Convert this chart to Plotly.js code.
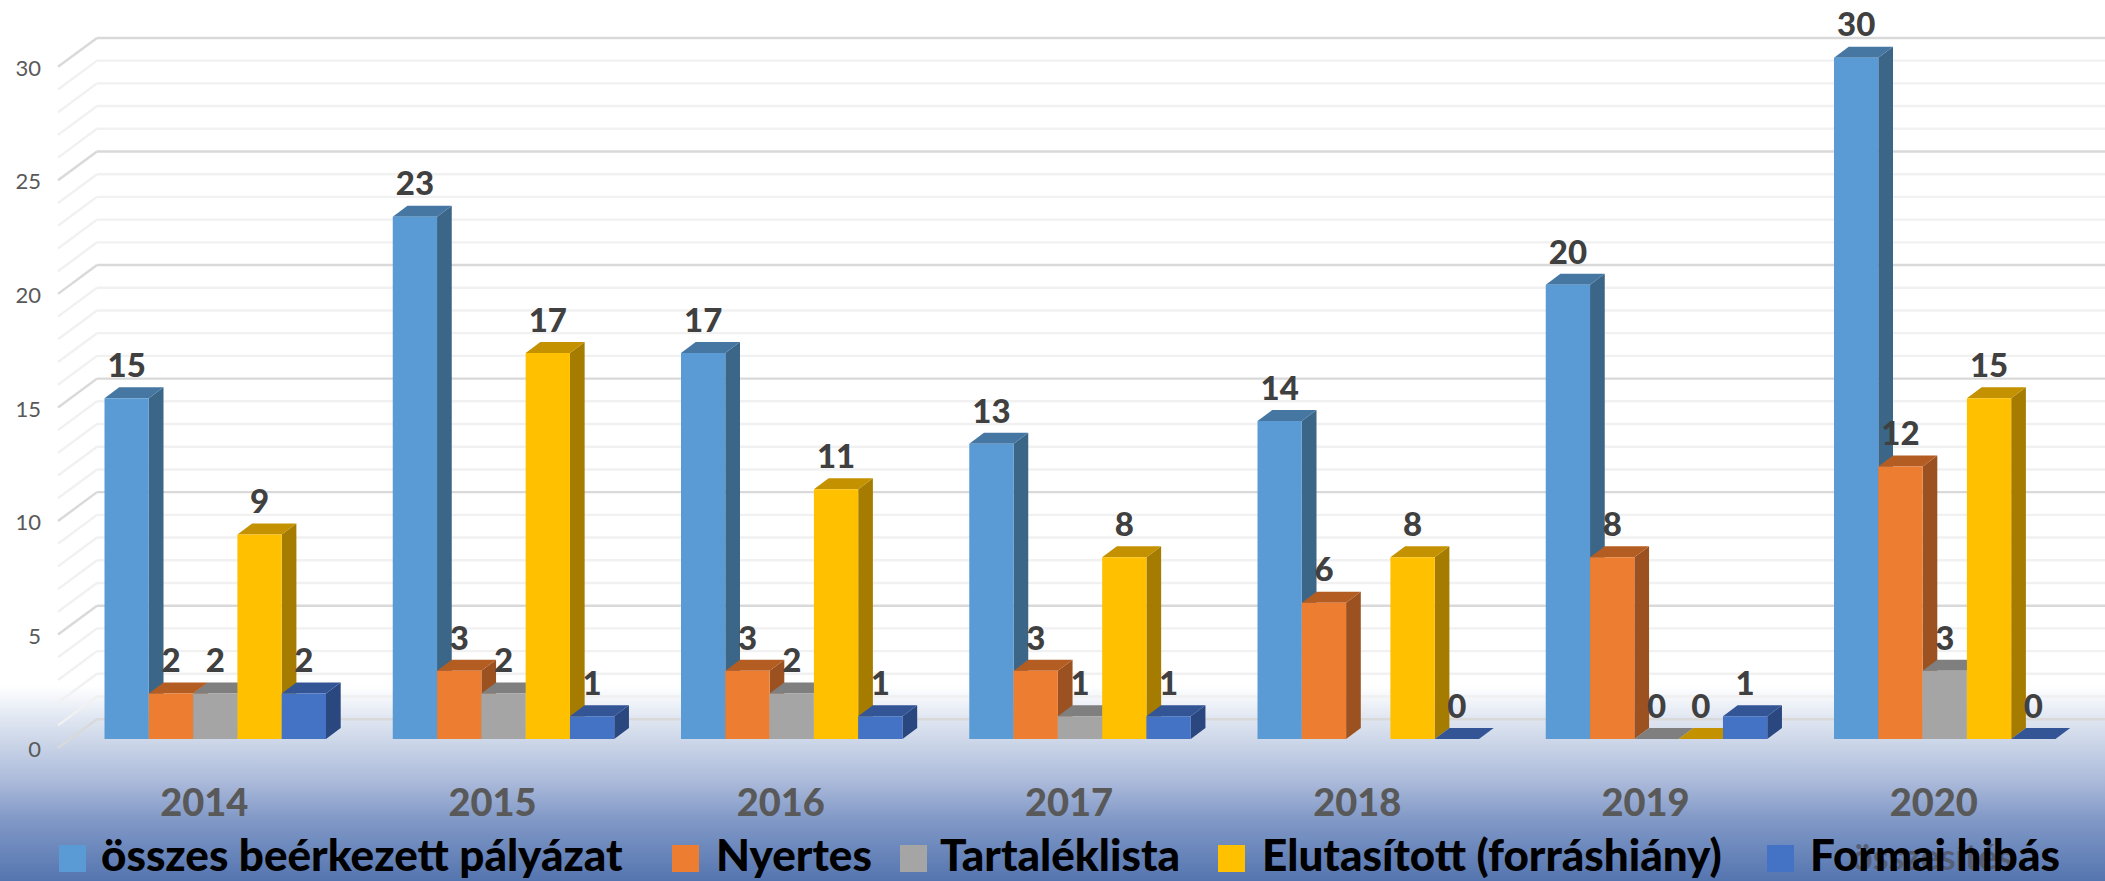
<!DOCTYPE html>
<html>
<head>
<meta charset="utf-8">
<script src="https://cdn.plot.ly/plotly-3.0.1.min.js"></script>
<style>
html,body{margin:0;padding:0;width:2105px;height:881px;overflow:hidden;
background:linear-gradient(to bottom,#ffffff 0,#ffffff 686px,#e6ebf4 712px,#c9d4e7 745px,#adbbdb 780px,#8098c6 820px,#5575b0 881px);}
</style>
</head>
<body>
<div id="chart" style="width:2105px;height:881px"></div>
<script>
var years = ['2014','2015','2016','2017','2018','2019','2020'];
var osszes = [15,23,17,13,14,20,30];
var nyertes = [2,3,3,3,6,8,12];
var tartalek = [2,2,2,1,null,0,3];
var elutasitott = [9,17,11,8,8,0,15];
var formai = [2,1,1,1,0,1,0];
var seriesNames = ['összes beérkezett pályázat','Nyertes','Tartaléklista','Elutasított (forráshiány)','Formai hibás'];
var yTicks = [0,5,10,15,20,25,30];
var gridValues = [];
for (var g = 0; g <= 30; g++) gridValues.push(g);

var allSeries = [osszes,nyertes,tartalek,elutasitott,formai];
var frontColors = ['#5B9BD5','#ED7D31','#A5A5A5','#FFC000','#4472C4'];
var sideColors  = ['#3B6688','#9C5220','#7C7C7C','#A67C00','#2A4780'];
var topColors   = ['#4677A3','#B45D22','#7F7F7F','#C49200','#335596'];

var W = 2105, H = 881, marginL = 42;
var pxPerCat = 288.25, pxPerUnit = 22.71, baseY = 739, firstCenter = 215.25;
var xOf = function(px){ return (px - firstCenter) / pxPerCat; };
var yOf = function(py){ return (baseY - py) / pxPerUnit; };
var barW = 44.3 / pxPerCat;
var depthX = 14.7 / pxPerCat, depthY = 11 / pxPerUnit;
var paperX = function(px){ return (px - marginL) / (W - marginL); };
var paperY = function(py){ return 1 - py / H; };

var shapes = [];
function poly(pts, color, layer){
  var p = pts.map(function(q,i){ return (i ? 'L' : 'M') + q[0] + ',' + q[1]; }).join(' ') + ' Z';
  shapes.push({type:'path', xref:'x', yref:'y', layer:layer, path:p, fillcolor:color, line:{width:0}});
}
function seg(x0,y0,x1,y1,color){
  shapes.push({type:'line', xref:'x', yref:'y', layer:'below', x0:x0,y0:y0,x1:x1,y1:y1, line:{color:color,width:2.4}});
}
// receding wall and floor lines
var wallLift = 0.87, frontDrop = -0.4, wallFront = xOf(58), wallBack = xOf(97), wallEnd = xOf(W + 5);
gridValues.forEach(function(v){
  var c = v % 5 === 0 ? '#d9d9d9' : '#f1f1f1';
  seg(wallFront, v + frontDrop, wallBack, v + wallLift, c);
  seg(wallBack, v + wallLift, wallEnd, v + wallLift, c);
});
// bar depth faces, left to right
for (var gi = 0; gi < years.length; gi++) {
  for (var si = 0; si < allSeries.length; si++) {
    var v = allSeries[si][gi];
    if (v === null) continue;
    var l = gi + (si - 2.5) * barW, r = l + barW;
    poly([[r,0],[r+depthX,depthY],[r+depthX,v+depthY],[r,v]], sideColors[si], 'between');
    poly([[l,v],[r,v],[r+depthX,v+depthY],[l+depthX,v+depthY]], topColors[si], 'between');
  }
}

var xIdx = years.map(function(_,i){ return i; });
var traces = [];
allSeries.forEach(function(vals,si){
  traces.push({type:'bar', name:seriesNames[si], x:xIdx, y:vals, marker:{color:frontColors[si], line:{width:0}},
    hoverinfo:'name+y', showlegend:false});
});
var labelLift = 29.5 / pxPerUnit;
allSeries.forEach(function(vals,si){
  var xs=[], ys=[], ts=[];
  vals.forEach(function(v,i){
    if (v === null) return;
    xs.push(i + (si - 2) * barW); ys.push(v + labelLift); ts.push(String(v));
  });
  traces.push({type:'scatter', mode:'text', x:xs, y:ys, text:ts, textposition:'middle center',
    textfont:{family:'Lato, Carlito, sans-serif', size:33, color:'#404040', weight:900},
    hoverinfo:'skip', showlegend:false, cliponaxis:false});
});

// legend drawn to the reference's swatch size
var swatchX = [59, 672, 900, 1218, 1767];
var textX   = [99, 714, 938, 1260, 1808];
var annotations = [{
  xref:'paper', yref:'paper', x:paperX(1932), y:paperY(856), xanchor:'center', yanchor:'middle', showarrow:false,
  text:'<b>összesítés</b>', font:{family:'Lato, sans-serif', size:36, color:'#565f75'}
}];
seriesNames.forEach(function(n,i){
  shapes.push({type:'rect', xref:'paper', yref:'paper', layer:'above',
    x0:paperX(swatchX[i]), x1:paperX(swatchX[i]+27), y0:paperY(872), y1:paperY(845),
    fillcolor:frontColors[i], line:{width:0}});
  annotations.push({xref:'paper', yref:'paper', x:paperX(textX[i]), y:paperY(853.5), xanchor:'left', yanchor:'middle',
    showarrow:false, text:n, font:{family:'Lato, sans-serif', size:44, color:'#000000', weight:900}});
});

var layout = {
  width:W, height:H, margin:{l:marginL, r:0, t:0, b:0},
  paper_bgcolor:'rgba(0,0,0,0)', plot_bgcolor:'rgba(0,0,0,0)',
  barmode:'group', bargap:1 - 5 * barW, bargroupgap:0, showlegend:false,
  xaxis:{range:[xOf(marginL), xOf(W)], tickmode:'array',
    tickvals:xIdx.map(function(i){ return i - 11 / pxPerCat; }), ticktext:years,
    showgrid:false, zeroline:false, showline:false, ticks:'', anchor:'free', position:paperY(777),
    tickfont:{family:'Lato, sans-serif', size:38, color:'#595959', weight:900}},
  yaxis:{range:[yOf(H), yOf(0)], tickmode:'array',
    tickvals:yTicks.map(function(v){ return v + frontDrop - 0.06; }), ticktext:yTicks.map(String),
    showgrid:false, zeroline:false, showline:false, ticks:'',
    tickfont:{family:'Lato, sans-serif', size:22, color:'#595959'}},
  shapes:shapes, annotations:annotations, font:{family:'Lato, sans-serif'}
};
Plotly.newPlot('chart', traces, layout, {displayModeBar:false, staticPlot:true});
</script>
</body>
</html>
